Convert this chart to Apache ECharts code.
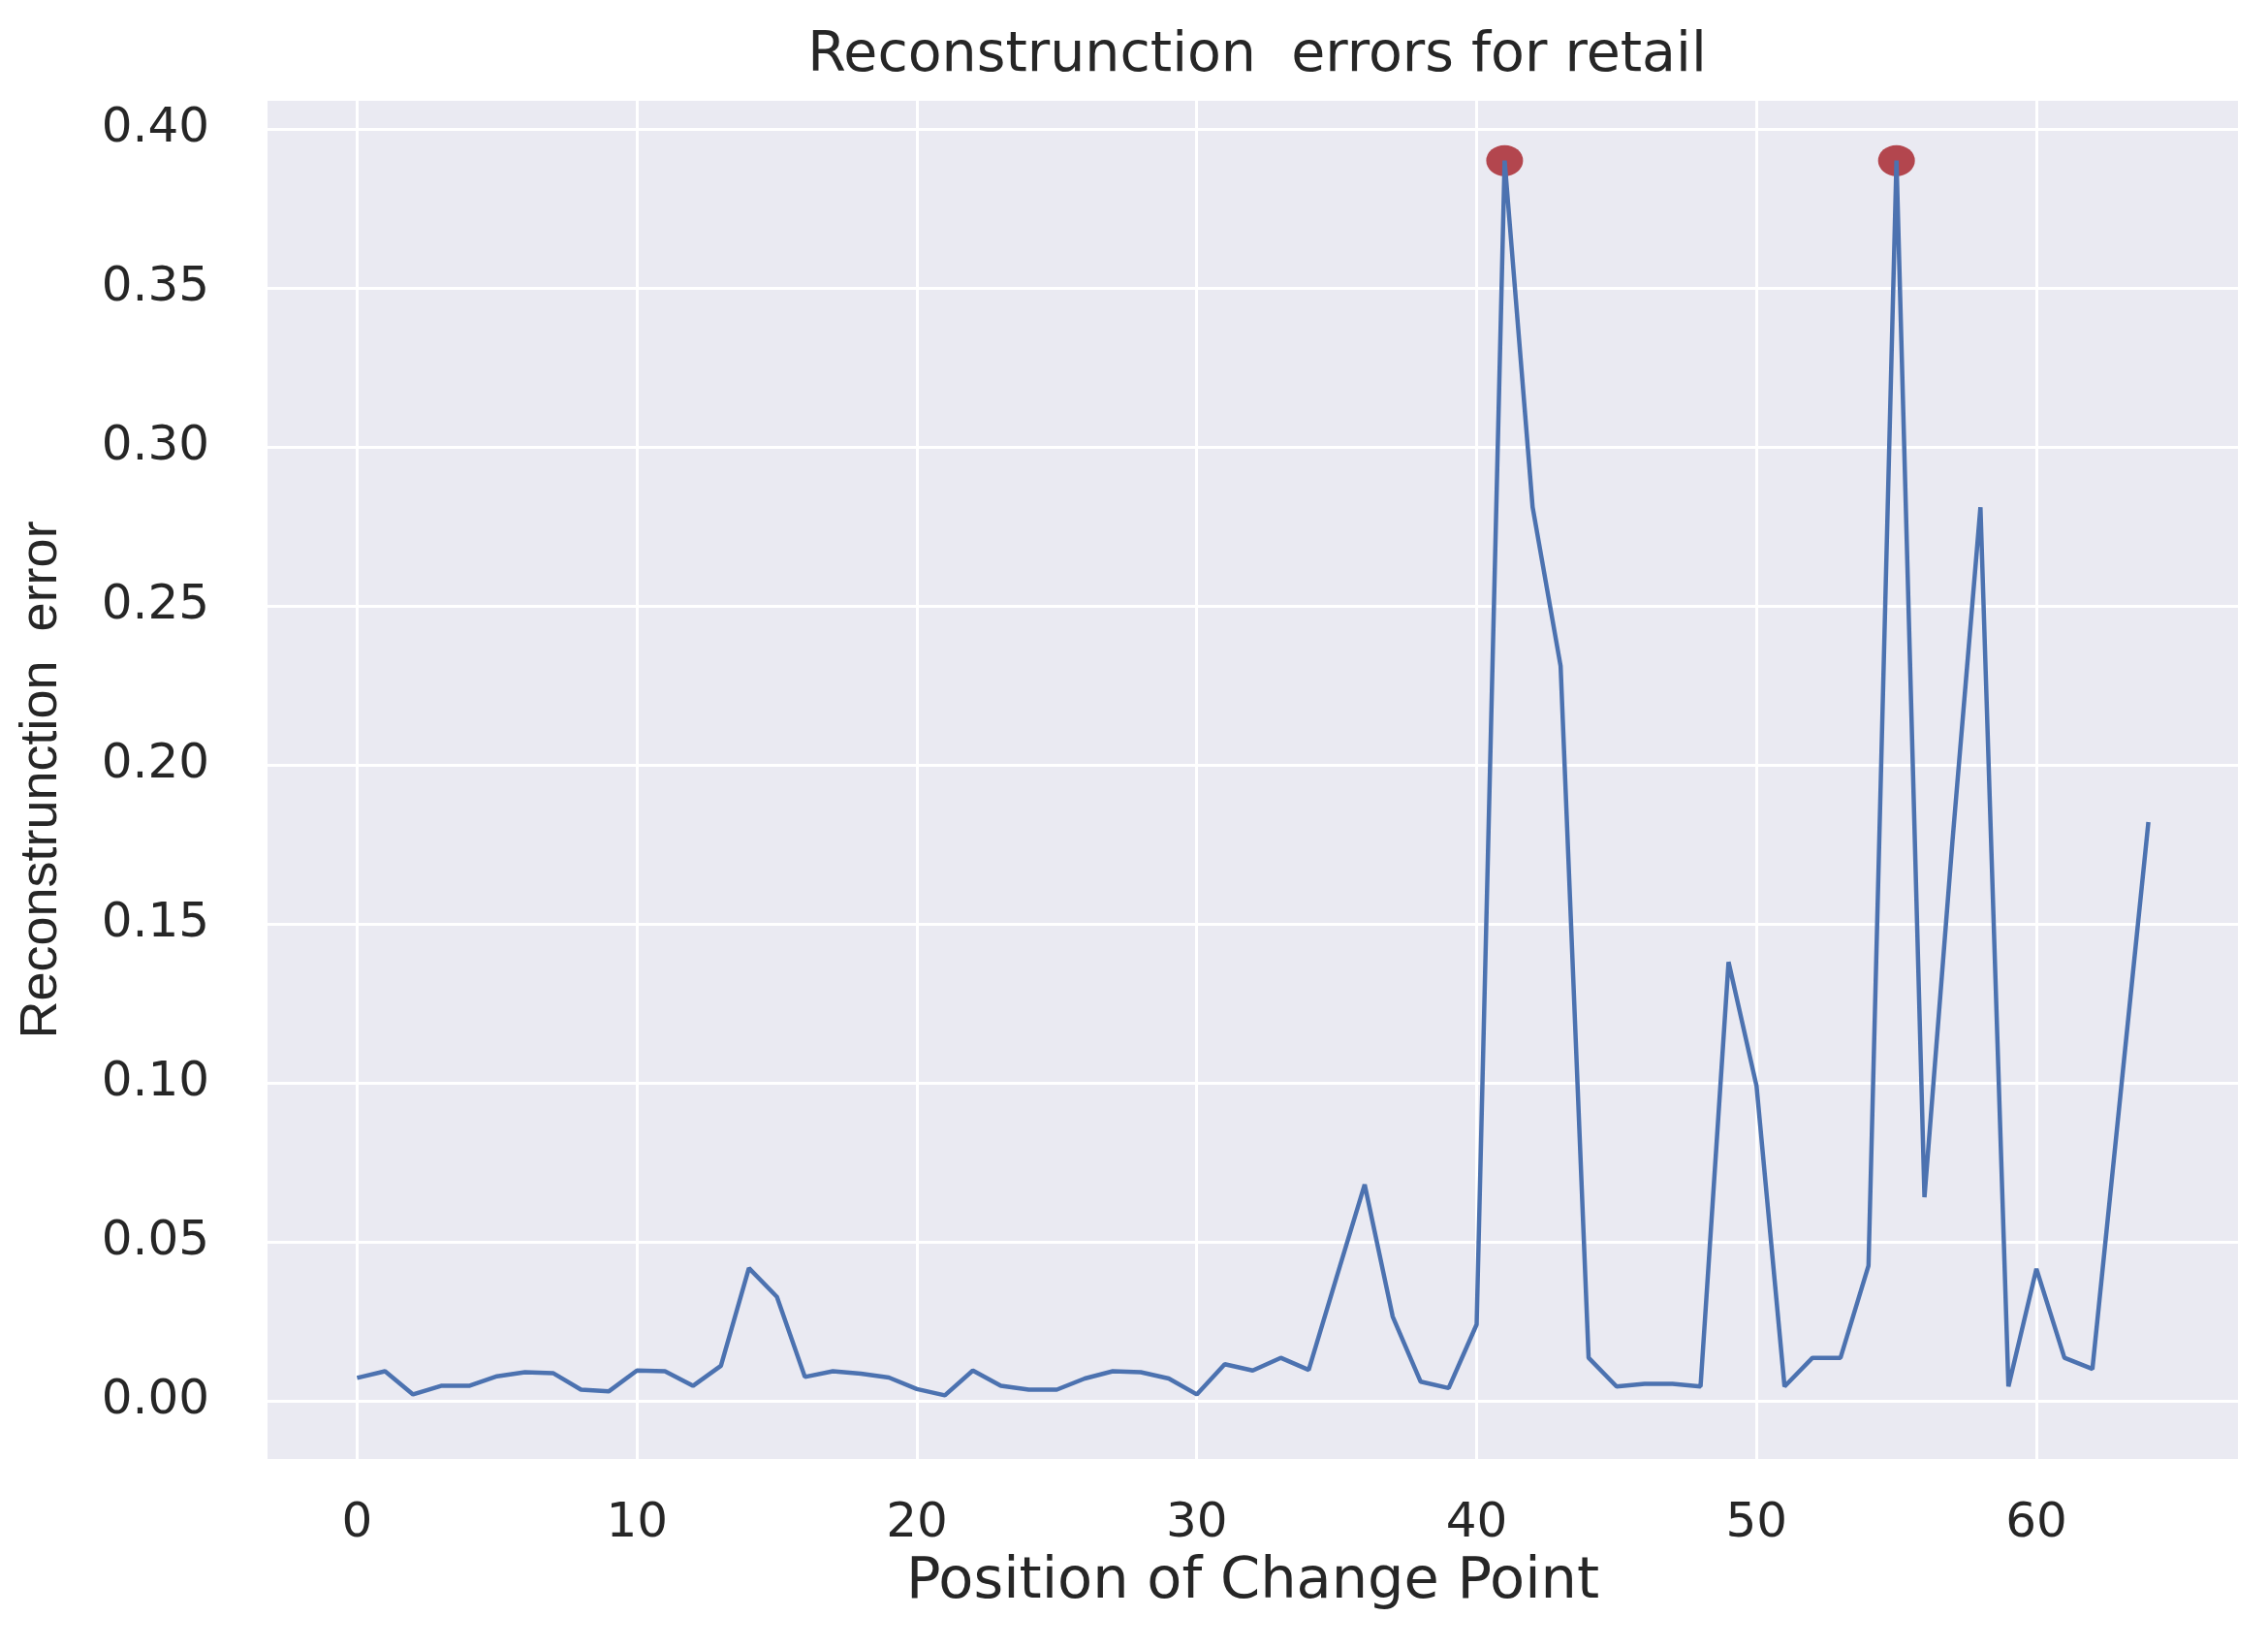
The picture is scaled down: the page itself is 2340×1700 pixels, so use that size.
<!DOCTYPE html>
<html>
<head>
<meta charset="utf-8">
<title>Reconstrunction errors for retail</title>
<script src="https://cdn.jsdelivr.net/npm/echarts@6/dist/echarts.min.js"></script>
<style>
  html, body { margin: 0; padding: 0; background: #fff; }
  #myChart { width: 2340px; height: 1700px; }
</style>
</head>
<body>
<div id="myChart"></div>
<script>
// reconstruction error per change point position (0..64)
var errors = [
  0.0072, 0.0093, 0.0020, 0.0047, 0.0047, 0.0077, 0.0090, 0.0087, 0.0035, 0.0030,
  0.0095, 0.0093, 0.0047, 0.0110, 0.0417, 0.0327, 0.0075, 0.0093, 0.0085, 0.0073,
  0.0037, 0.0017, 0.0095, 0.0047, 0.0035, 0.0035, 0.0070, 0.0093, 0.0090, 0.0070,
  0.0020, 0.0115, 0.0095, 0.0135, 0.0097, 0.0390, 0.0680, 0.0265, 0.0060, 0.0040,
  0.0240, 0.3900, 0.2810, 0.2310, 0.0135, 0.0045, 0.0053, 0.0053, 0.0045, 0.1380,
  0.0990, 0.0045, 0.0135, 0.0135, 0.0425, 0.3900, 0.0640, 0.1760, 0.2810, 0.0045,
  0.0415, 0.0135, 0.0100, 0.0960, 0.1820
];
// positions flagged in red
var anomalyIdx = [41, 55];

var titleText = 'Reconstrunction  errors for retail';
var xName = 'Position of Change Point';
var yName = 'Reconstrunction  error';

var lineData = errors.map(function (v, i) { return [i, v]; });
var anomalyData = anomalyIdx.map(function (i) { return [i, errors[i]]; });

var font = 'DejaVu Sans';
var textColor = '#262626';

var myChart = echarts.init(document.getElementById('myChart'));
myChart.setOption({
  animation: false,
  backgroundColor: '#ffffff',
  // title is centred over the plot area, not the page
  title: {
    text: titleText,
    left: 1292,
    textAlign: 'center',
    top: 25,
    textStyle: { fontFamily: font, fontSize: 57, fontWeight: 'normal', color: textColor }
  },
  grid: {
    show: true,
    left: 276,
    right: 31,
    top: 104,
    bottom: 195,
    backgroundColor: '#EAEAF2',
    borderWidth: 0
  },
  xAxis: {
    type: 'value',
    min: -3.2,
    max: 67.2,
    splitNumber: 7,
    minInterval: 10,
    maxInterval: 10,
    name: xName,
    nameLocation: 'middle',
    nameGap: 98,
    nameTextStyle: { fontFamily: font, fontSize: 59, color: textColor },
    axisLine: { show: false },
    axisTick: { show: false },
    axisLabel: {
      margin: 42,
      fontFamily: font,
      fontSize: 50,
      color: textColor,
      showMinLabel: false,
      showMaxLabel: false,
      formatter: function (v) { return String(Math.round(v)); }
    },
    splitLine: { show: true, showMinLine: false, showMaxLine: false, lineStyle: { color: '#ffffff', width: 3 } }
  },
  yAxis: {
    type: 'value',
    min: -0.0183,
    max: 0.4088,
    splitNumber: 8,
    minInterval: 0.05,
    maxInterval: 0.05,
    name: yName,
    nameLocation: 'middle',
    nameRotate: 90,
    nameGap: 206,
    nameTextStyle: { fontFamily: 'Liberation Sans', fontSize: 54, color: textColor },
    axisLine: { show: false },
    axisTick: { show: false },
    axisLabel: {
      margin: 60,
      fontFamily: font,
      fontSize: 50,
      color: textColor,
      showMinLabel: false,
      showMaxLabel: false,
      formatter: function (v) { return v.toFixed(2); }
    },
    splitLine: { show: true, showMinLine: false, showMaxLine: false, lineStyle: { color: '#ffffff', width: 3 } }
  },
  series: [
    {
      name: 'anomaly',
      type: 'scatter',
      z: 1,
      symbol: 'circle',
      symbolSize: [38, 32],
      itemStyle: { color: '#A51D24' },
      data: anomalyData
    },
    {
      name: 'error',
      type: 'line',
      z: 2,
      showSymbol: false,
      symbol: 'none',
      lineStyle: { color: '#4C72B0', width: 4.5 },
      data: lineData
    }
  ]
});
</script>
</body>
</html>
